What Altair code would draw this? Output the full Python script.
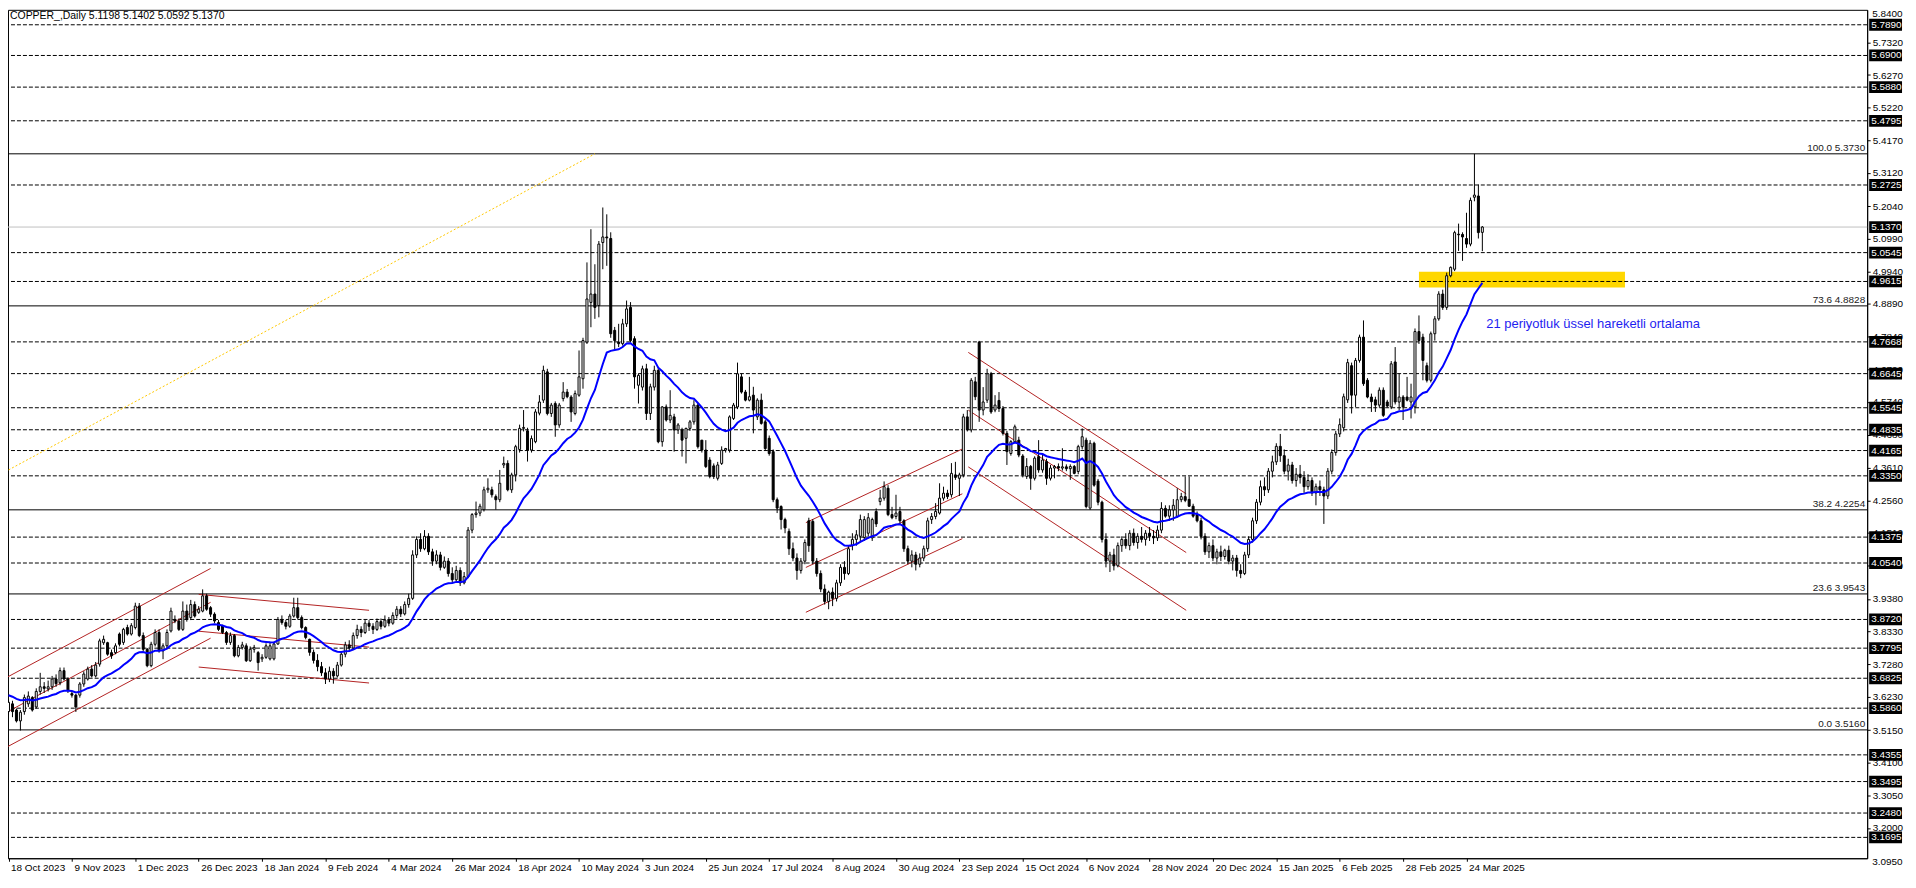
import altair as alt
import pandas as pd

# ---------------- data ----------------
opens = [
3.575,3.600,3.580,3.545,3.575,3.600,3.620,3.590,3.640,3.655,
3.648,3.655,3.680,3.668,3.707,3.680,3.633,3.628,3.628,3.664,
3.680,3.712,3.690,3.728,3.797,3.797,3.765,3.765,3.825,3.798,
3.846,3.825,3.846,3.915,3.820,3.776,3.723,3.792,3.830,3.771,
3.787,3.835,3.872,3.867,3.840,3.899,3.878,3.920,3.895,3.899,
3.948,3.910,3.889,3.862,3.851,3.830,3.798,3.820,3.755,3.782,
3.787,3.739,3.776,3.765,3.745,3.750,3.745,3.745,3.793,3.872,
3.862,3.850,3.883,3.910,3.878,3.846,3.808,3.766,3.740,3.720,
3.700,3.680,3.705,3.690,3.725,3.760,3.790,3.780,3.820,3.840,
3.830,3.860,3.850,3.840,3.865,3.850,3.870,3.860,3.885,3.905,
3.890,3.920,3.940,4.080,4.130,4.100,4.140,4.090,4.060,4.080,
4.040,4.060,4.020,4.000,4.030,3.990,4.010,4.160,4.210,4.215,
4.226,4.290,4.290,4.268,4.258,4.370,4.375,4.290,4.338,4.420,
4.488,4.480,4.418,4.445,4.537,4.579,4.670,4.536,4.568,4.499,
4.584,4.605,4.589,4.536,4.595,4.648,4.766,4.894,4.921,4.884,
5.087,5.105,5.100,4.804,4.766,4.761,4.825,4.878,4.777,4.627,
4.621,4.680,4.536,4.621,4.675,4.445,4.557,4.515,4.525,4.483,
4.483,4.456,4.488,4.509,4.563,4.450,4.418,4.386,4.367,4.327,
4.375,4.418,4.418,4.520,4.557,4.654,4.605,4.579,4.595,4.525,
4.579,4.509,4.456,4.413,4.258,4.236,4.194,4.156,4.100,4.070,
4.030,4.060,4.190,4.188,4.060,4.020,3.970,3.930,3.960,3.940,
3.990,4.040,4.020,4.110,4.130,4.140,4.136,4.150,4.135,4.220,
4.252,4.263,4.295,4.210,4.204,4.220,4.190,4.100,4.060,4.080,
4.050,4.070,4.100,4.194,4.204,4.215,4.263,4.279,4.274,4.338,
4.327,4.338,4.525,4.483,4.638,4.766,4.547,4.579,4.664,4.547,
4.578,4.552,4.472,4.407,4.445,4.450,4.399,4.333,4.365,4.327,
4.397,4.354,4.381,4.327,4.360,4.365,4.360,4.364,4.358,4.365,
4.349,4.429,4.450,4.231,4.440,4.318,4.250,4.130,4.060,4.080,
4.045,4.110,4.130,4.110,4.150,4.120,4.140,4.130,4.150,4.140,
4.135,4.160,4.230,4.205,4.225,4.204,4.258,4.268,4.259,4.237,
4.210,4.190,4.140,4.090,4.110,4.070,4.090,4.075,4.095,4.060,
4.070,4.030,4.020,4.080,4.130,4.190,4.250,4.300,4.290,4.350,
4.380,4.430,4.400,4.350,4.370,4.320,4.340,4.330,4.300,4.320,
4.280,4.300,4.290,4.270,4.350,4.410,4.470,4.490,4.580,4.690,
4.595,4.707,4.782,4.643,4.589,4.580,4.563,4.611,4.573,4.557,
4.702,4.573,4.589,4.589,4.573,4.557,4.800,4.782,4.690,4.643,
4.793,4.841,4.921,4.878,4.980,5.001,5.114,5.113,5.100,5.082,
5.233,5.237,5.1198]

highs = [
3.615,3.610,3.585,3.580,3.630,3.640,3.625,3.650,3.700,3.670,
3.675,3.690,3.695,3.717,3.717,3.685,3.640,3.632,3.670,3.705,
3.720,3.725,3.735,3.810,3.820,3.800,3.775,3.795,3.830,3.845,
3.855,3.860,3.926,3.925,3.830,3.780,3.800,3.840,3.840,3.795,
3.840,3.910,3.885,3.875,3.930,3.920,3.935,3.930,3.915,3.969,
3.955,3.915,3.895,3.870,3.855,3.835,3.830,3.825,3.790,3.800,
3.795,3.785,3.790,3.770,3.760,3.795,3.800,3.800,3.880,3.885,
3.870,3.890,3.942,3.942,3.885,3.850,3.810,3.775,3.760,3.735,
3.715,3.720,3.715,3.735,3.770,3.800,3.805,3.830,3.855,3.850,
3.870,3.870,3.860,3.875,3.875,3.885,3.880,3.895,3.915,3.915,
3.930,3.955,4.095,4.140,4.150,4.160,4.150,4.100,4.095,4.090,
4.075,4.070,4.040,4.045,4.040,4.025,4.170,4.215,4.252,4.245,
4.300,4.327,4.300,4.275,4.354,4.397,4.385,4.345,4.435,4.500,
4.547,4.490,4.465,4.550,4.595,4.690,4.680,4.570,4.575,4.570,
4.637,4.615,4.595,4.610,4.739,4.780,5.023,5.130,5.017,5.092,
5.200,5.178,5.120,4.815,4.825,4.841,4.900,4.895,4.785,4.665,
4.690,4.696,4.632,4.690,4.685,4.560,4.565,4.611,4.535,4.505,
4.490,4.490,4.515,4.579,4.570,4.450,4.450,4.395,4.375,4.380,
4.430,4.425,4.530,4.570,4.700,4.665,4.612,4.654,4.622,4.585,
4.600,4.515,4.465,4.420,4.265,4.240,4.200,4.165,4.120,4.085,
4.070,4.130,4.200,4.195,4.070,4.030,3.985,3.965,3.975,4.000,
4.050,4.060,4.110,4.150,4.160,4.210,4.205,4.215,4.200,4.230,
4.290,4.317,4.305,4.235,4.274,4.235,4.195,4.110,4.095,4.090,
4.085,4.110,4.200,4.215,4.247,4.311,4.300,4.290,4.376,4.380,
4.345,4.535,4.547,4.650,4.654,4.770,4.621,4.680,4.670,4.595,
4.605,4.560,4.480,4.450,4.500,4.461,4.405,4.392,4.370,4.398,
4.450,4.408,4.390,4.370,4.370,4.375,4.424,4.372,4.372,4.370,
4.435,4.488,4.458,4.450,4.445,4.325,4.255,4.150,4.090,4.100,
4.120,4.140,4.150,4.160,4.165,4.150,4.170,4.160,4.170,4.160,
4.175,4.250,4.240,4.240,4.260,4.295,4.280,4.333,4.333,4.245,
4.220,4.200,4.150,4.120,4.130,4.100,4.110,4.100,4.110,4.080,
4.080,4.050,4.090,4.140,4.200,4.260,4.320,4.330,4.360,4.400,
4.440,4.470,4.420,4.390,4.380,4.360,4.370,4.350,4.340,4.330,
4.310,4.320,4.300,4.360,4.420,4.480,4.520,4.600,4.712,4.700,
4.715,4.790,4.836,4.650,4.600,4.590,4.620,4.620,4.580,4.705,
4.750,4.664,4.595,4.654,4.632,4.810,4.852,4.793,4.700,4.800,
4.850,4.930,4.935,4.990,5.010,5.125,5.148,5.120,5.183,5.232,
5.373,5.274,5.1402]

lows = [
3.565,3.557,3.540,3.514,3.565,3.590,3.575,3.585,3.630,3.635,
3.640,3.645,3.655,3.660,3.675,3.635,3.620,3.574,3.620,3.655,
3.675,3.685,3.685,3.720,3.790,3.755,3.745,3.760,3.785,3.790,
3.820,3.820,3.840,3.815,3.770,3.718,3.718,3.785,3.765,3.744,
3.780,3.830,3.860,3.835,3.835,3.865,3.870,3.878,3.890,3.895,
3.900,3.880,3.860,3.835,3.825,3.790,3.790,3.750,3.750,3.775,
3.735,3.735,3.765,3.707,3.735,3.745,3.740,3.740,3.790,3.855,
3.840,3.845,3.878,3.872,3.840,3.808,3.755,3.730,3.705,3.690,
3.664,3.670,3.665,3.685,3.720,3.750,3.770,3.775,3.810,3.815,
3.825,3.835,3.825,3.835,3.840,3.845,3.850,3.855,3.875,3.880,
3.885,3.910,3.935,4.070,4.090,4.095,4.080,4.045,4.050,4.030,
4.035,4.010,3.990,3.995,3.980,3.985,4.005,4.150,4.200,4.205,
4.220,4.280,4.265,4.226,4.250,4.360,4.285,4.280,4.317,4.410,
4.478,4.381,4.410,4.440,4.530,4.570,4.530,4.525,4.461,4.490,
4.575,4.585,4.509,4.530,4.590,4.616,4.760,4.814,4.841,4.846,
5.001,5.012,4.780,4.740,4.750,4.755,4.815,4.765,4.616,4.568,
4.610,4.515,4.515,4.610,4.440,4.429,4.510,4.505,4.413,4.470,
4.397,4.375,4.480,4.500,4.423,4.410,4.360,4.327,4.325,4.320,
4.370,4.410,4.410,4.515,4.550,4.600,4.575,4.575,4.472,4.515,
4.500,4.415,4.400,4.250,4.215,4.162,4.150,4.080,4.060,4.000,
4.020,4.050,4.090,4.050,4.010,3.960,3.920,3.905,3.915,3.930,
3.980,4.000,4.015,4.095,4.110,4.125,4.125,4.140,4.125,4.170,
4.240,4.255,4.205,4.195,4.195,4.180,4.090,4.050,4.040,4.030,
4.040,4.060,4.090,4.180,4.195,4.210,4.255,4.260,4.265,4.322,
4.270,4.330,4.478,4.475,4.579,4.509,4.530,4.570,4.535,4.540,
4.541,4.465,4.370,4.400,4.440,4.395,4.330,4.325,4.290,4.320,
4.345,4.345,4.306,4.320,4.327,4.350,4.352,4.350,4.322,4.340,
4.340,4.420,4.230,4.225,4.300,4.240,4.120,4.040,4.025,4.030,
4.040,4.090,4.100,4.095,4.110,4.100,4.120,4.110,4.125,4.115,
4.125,4.150,4.200,4.190,4.190,4.200,4.250,4.250,4.235,4.200,
4.185,4.130,4.080,4.070,4.060,4.050,4.060,4.065,4.050,4.030,
4.010,4.005,4.015,4.070,4.120,4.180,4.240,4.270,4.280,4.330,
4.370,4.380,4.340,4.320,4.310,4.300,4.310,4.280,4.290,4.270,
4.240,4.270,4.180,4.260,4.340,4.400,4.460,4.478,4.570,4.536,
4.557,4.700,4.625,4.585,4.541,4.541,4.555,4.525,4.555,4.550,
4.565,4.547,4.515,4.575,4.520,4.536,4.760,4.643,4.636,4.636,
4.771,4.835,4.870,4.870,4.975,4.995,5.060,5.028,5.070,5.075,
5.220,5.100,5.0592]

closes = [
3.605,3.575,3.545,3.573,3.620,3.625,3.580,3.640,3.655,3.650,
3.655,3.680,3.665,3.707,3.680,3.643,3.628,3.590,3.664,3.696,
3.712,3.690,3.725,3.803,3.808,3.760,3.755,3.787,3.792,3.840,
3.825,3.852,3.915,3.820,3.776,3.723,3.792,3.830,3.771,3.787,
3.830,3.899,3.867,3.840,3.899,3.872,3.920,3.883,3.905,3.948,
3.905,3.889,3.867,3.840,3.830,3.798,3.820,3.755,3.782,3.790,
3.739,3.776,3.782,3.733,3.750,3.787,3.787,3.793,3.872,3.862,
3.850,3.883,3.910,3.878,3.846,3.814,3.766,3.740,3.720,3.700,
3.680,3.705,3.690,3.725,3.760,3.790,3.780,3.820,3.840,3.830,
3.860,3.850,3.840,3.865,3.850,3.870,3.860,3.885,3.905,3.890,
3.920,3.940,4.080,4.130,4.100,4.140,4.090,4.060,4.080,4.040,
4.060,4.020,4.000,4.030,3.990,4.010,4.160,4.210,4.215,4.237,
4.290,4.295,4.274,4.258,4.311,4.375,4.290,4.338,4.429,4.488,
4.491,4.418,4.455,4.541,4.573,4.675,4.536,4.563,4.499,4.563,
4.605,4.590,4.541,4.600,4.654,4.771,4.905,4.921,4.878,5.082,
5.105,5.102,4.793,4.771,4.761,4.825,4.873,4.771,4.654,4.659,
4.680,4.536,4.622,4.675,4.445,4.557,4.515,4.530,4.483,4.499,
4.450,4.488,4.509,4.563,4.429,4.418,4.365,4.333,4.333,4.370,
4.418,4.423,4.525,4.563,4.664,4.605,4.579,4.590,4.547,4.579,
4.504,4.423,4.407,4.258,4.231,4.194,4.167,4.100,4.070,4.030,
4.060,4.120,4.110,4.060,4.020,3.970,3.930,3.960,3.940,3.990,
4.040,4.020,4.100,4.130,4.145,4.194,4.194,4.200,4.194,4.180,
4.263,4.300,4.210,4.200,4.215,4.190,4.100,4.060,4.080,4.050,
4.070,4.100,4.190,4.204,4.220,4.263,4.279,4.268,4.343,4.330,
4.338,4.525,4.483,4.643,4.590,4.547,4.573,4.664,4.541,4.563,
4.552,4.472,4.413,4.445,4.493,4.402,4.338,4.365,4.327,4.392,
4.354,4.386,4.327,4.360,4.365,4.360,4.364,4.358,4.365,4.343,
4.429,4.461,4.236,4.440,4.305,4.250,4.130,4.060,4.080,4.045,
4.110,4.130,4.110,4.150,4.120,4.140,4.130,4.150,4.140,4.135,
4.160,4.230,4.205,4.225,4.240,4.258,4.268,4.256,4.237,4.205,
4.190,4.140,4.090,4.110,4.070,4.090,4.075,4.095,4.060,4.070,
4.030,4.020,4.080,4.130,4.190,4.250,4.300,4.290,4.350,4.380,
4.430,4.400,4.350,4.370,4.320,4.340,4.330,4.300,4.320,4.280,
4.300,4.290,4.270,4.350,4.410,4.470,4.500,4.590,4.700,4.595,
4.707,4.782,4.632,4.589,4.574,4.563,4.611,4.530,4.560,4.696,
4.573,4.589,4.557,4.579,4.589,4.800,4.771,4.707,4.643,4.793,
4.841,4.921,4.878,4.980,5.007,5.119,5.112,5.105,5.082,5.223,
5.240,5.119,5.1370]

# EMA(21) indicator, seeded with the value read at the left edge
EMA_PERIOD = 21
EMA_SEED = 3.630

# x-axis labels (one every 16 bars)
date_labels = ["18 Oct 2023", "9 Nov 2023", "1 Dec 2023", "26 Dec 2023", "18 Jan 2024",
               "9 Feb 2024", "4 Mar 2024", "26 Mar 2024", "18 Apr 2024", "10 May 2024",
               "3 Jun 2024", "25 Jun 2024", "17 Jul 2024", "8 Aug 2024", "30 Aug 2024",
               "23 Sep 2024", "15 Oct 2024", "6 Nov 2024", "28 Nov 2024", "20 Dec 2024",
               "15 Jan 2025", "6 Feb 2025", "28 Feb 2025", "24 Mar 2025"]
LABEL_STEP = 16

price_ticks = [5.7320, 5.6270, 5.5220, 5.4170, 5.3120, 5.2040, 5.0990, 4.9940,
               4.8890, 4.7840, 4.6790, 4.5740, 4.4680, 4.3610, 4.2560, 4.1510, 4.0450,
               3.9380, 3.8330, 3.7280, 3.6230, 3.5150, 3.4100, 3.3050, 3.2000]
edge_tick_top = "5.8400"
edge_tick_bottom = "3.0950"

dashed_levels = [5.7890, 5.6900, 5.5880, 5.4795, 5.2725, 5.0545, 4.9615, 4.7668, 4.6645,
                 4.5545, 4.4835, 4.4165, 4.3350, 4.1375, 4.0540, 3.8720, 3.7795, 3.6825,
                 3.5860, 3.4355, 3.3495, 3.2480, 3.1695]
current_price = 5.1370

fib_levels = [5.3730, 4.8828, 4.2254, 3.9543, 3.5160]
fib_names = ["100.0", "73.6", "38.2", "23.6", "0.0"]

# channel / trend lines: (group, bar0, price0, bar1, price1)
channel_lines = [
    ("c1a", -0.75, 3.6832, 51.0, 4.0363), ("c1b", -0.75, 3.5709, 51.0, 3.9272),
    ("c1c", -0.75, 3.4585, 51.0, 3.8116),
    ("c2a", 48.0, 3.9529, 91.0, 3.9015), ("c2b", 48.0, 3.8341, 91.0, 3.7828),
    ("c2c", 48.0, 3.7186, 91.0, 3.6672),
    ("c3a", 201.25, 4.1840, 240.75, 4.4215), ("c3b", 201.25, 4.0396, 240.75, 4.2771),
    ("c3c", 201.25, 3.8951, 240.75, 4.1326),
    ("c4a", 242.25, 4.7329, 297.25, 4.2771), ("c4b", 242.25, 4.5467, 297.25, 4.0877),
    ("c4c", 242.25, 4.3638, 297.25, 3.9015),
]
gold_line = [("g", 0.0, 4.354, 148.0, 5.373)]

zone_bars = [356.0, 408.0]
zone_prices = [4.942, 4.993]

ema_note = "21 periyotluk üssel hareketli ortalama"
ema_note_pos = (373.0, 4.823)
title_text = "COPPER_,Daily  5.1198 5.1402 5.0592 5.1370"

# ---------------- layout ----------------
W, H = 1867, 852
XMIN = 1.125
XMAX = XMIN + W / 4.0
YMAX = 5.8372
YMIN = YMAX - H * 0.00321
FONT = "Liberation Sans"

ema_vals = []
prev = EMA_SEED
for c in closes:
    prev = prev + (c - prev) * 2.0 / (EMA_PERIOD + 1)
    ema_vals.append(prev)

cdf = pd.DataFrame({"i": list(range(len(closes))), "o": opens, "h": highs,
                    "l": lows, "c": closes, "ema": ema_vals})

xs = alt.Scale(domain=[XMIN, XMAX], nice=False, zero=False)
ys = alt.Scale(domain=[YMIN, YMAX], nice=False, zero=False)

label_array = "[" + ",".join("'%s'" % s for s in date_labels) + "]"
x_axis = alt.Axis(values=[k * LABEL_STEP for k in range(len(date_labels))],
                  labelExpr=label_array + "[round(datum.value/%d)]" % LABEL_STEP,
                  orient="bottom", title=None, grid=False, labelAlign="left",
                  labelOffset=2, labelPadding=1, tickSize=3, tickColor="black",
                  domainColor="black", labelColor="black", labelFont=FONT,
                  labelFontSize=10, labelOverlap=False, labelFlush=False, zindex=0)
y_axis = alt.Axis(values=price_ticks, format=".4f", orient="right", title=None,
                  grid=False, tickSize=3, tickColor="black", domainColor="black",
                  labelColor="black", labelFont=FONT, labelFontSize=10, labelPadding=2,
                  labelOverlap=False, labelFlush=False, labelBaseline="middle", zindex=0)


def X(f):
    return alt.X(f, type="quantitative", scale=xs, axis=x_axis)


def Y(f):
    return alt.Y(f, type="quantitative", scale=ys, axis=y_axis)


zone = alt.Chart(pd.DataFrame({"x0": [zone_bars[0]], "x1": [zone_bars[1]],
                               "y0": [zone_prices[0]], "y1": [zone_prices[1]]})
                 ).mark_rect(color="#FFD700").encode(x=X("x0"), x2="x1", y=Y("y0"), y2="y1")

lvl_df = pd.DataFrame({"level": dashed_levels})
dashed = alt.Chart(lvl_df).mark_rule(color="black", strokeWidth=1, strokeDash=[4, 2]).encode(y=Y("level"))
cur_line = alt.Chart(pd.DataFrame({"level": [current_price]})).mark_rule(
    color="#c0c0c0", strokeWidth=1).encode(y=Y("level"))

fib_df = pd.DataFrame({"level": fib_levels,
                       "label": ["%s %.4f" % (n, v) for n, v in zip(fib_names, fib_levels)]})
fib_rules = alt.Chart(fib_df).mark_rule(color="black", strokeWidth=1).encode(y=Y("level"))
fib_text = alt.Chart(fib_df).mark_text(align="right", baseline="bottom", dy=-1, fontSize=10,
                                       font=FONT, color="#202020").encode(
    x=alt.value(W - 2), y=Y("level"), text="label")

rows = []
for g, a0, p0, a1, p1 in channel_lines:
    rows += [{"g": g, "i": a0, "p": p0}, {"g": g, "i": a1, "p": p1}]
chan = alt.Chart(pd.DataFrame(rows)).mark_line(color="#B22222", strokeWidth=1, clip=True).encode(
    x=X("i"), y=Y("p"), detail="g:N", order="i:Q")
grows = []
for g, a0, p0, a1, p1 in gold_line:
    grows += [{"g": g, "i": a0, "p": p0}, {"g": g, "i": a1, "p": p1}]
gold = alt.Chart(pd.DataFrame(grows)).mark_line(color="#FFC800", strokeWidth=1,
                                                strokeDash=[2, 2], clip=True).encode(
    x=X("i"), y=Y("p"), detail="g:N", order="i:Q")

wicks = alt.Chart(cdf).mark_rule(color="black", strokeWidth=1, clip=True).encode(
    x=X("i"), y=Y("l"), y2="h")
bodies = alt.Chart(cdf).mark_bar(size=2, stroke="black", strokeWidth=1, clip=True).encode(
    x=X("i"), y=Y("o"), y2="c",
    fill=alt.condition("datum.c >= datum.o", alt.value("white"), alt.value("black")))
ema = alt.Chart(cdf).mark_line(color="#0000FF", strokeWidth=2, clip=True).encode(
    x=X("i"), y=Y("ema"))

note = alt.Chart(pd.DataFrame({"i": [ema_note_pos[0]], "p": [ema_note_pos[1]], "t": [ema_note]})
                 ).mark_text(align="left", baseline="middle", fontSize=13, font=FONT,
                             color="#1E1EF0").encode(x=X("i"), y=Y("p"), text="t")
title = alt.Chart(pd.DataFrame({"t": [title_text]})).mark_text(
    align="left", baseline="top", fontSize=10.5, font=FONT, color="black").encode(
    x=alt.value(2), y=alt.value(1), text="t")

# the two outermost scale labels sit at the very edges of the price pane
edge_top = alt.Chart(pd.DataFrame({"t": [edge_tick_top]})).mark_text(
    align="left", baseline="middle", fontSize=10, font=FONT, color="black").encode(
    x=alt.value(W + 5), y=alt.value(4), text="t")
edge_bottom = alt.Chart(pd.DataFrame({"t": [edge_tick_bottom]})).mark_text(
    align="left", baseline="middle", fontSize=10, font=FONT, color="black").encode(
    x=alt.value(W + 5), y=alt.value(H + 4), text="t")

box_df = pd.DataFrame({"level": dashed_levels + [current_price]})
box_df["label"] = ["%.4f" % v for v in box_df["level"]]
boxes = alt.Chart(box_df).transform_calculate(
    lo="datum.level - 0.0190", hi="datum.level + 0.0190").mark_rect(color="black").encode(
    x=alt.value(W + 2), x2=alt.value(W + 35), y=Y("lo"), y2="hi")
box_text = alt.Chart(box_df).mark_text(align="left", baseline="middle", fontSize=10,
                                       font=FONT, color="white").encode(
    x=alt.value(W + 4), y=Y("level"), text="label")

chart = alt.layer(zone, cur_line, dashed, fib_rules, gold, chan, wicks, bodies, ema,
                  fib_text, note, title, edge_top, edge_bottom, boxes, box_text).properties(
    width=W, height=H,
    autosize=alt.AutoSizeParams(type="none"),
    padding={"left": 0, "top": 0, "right": 41, "bottom": 14},
    background="white",
).configure_view(stroke="black", strokeWidth=1)

chart.save("out.html", embed_options={"renderer": "svg", "actions": False})
